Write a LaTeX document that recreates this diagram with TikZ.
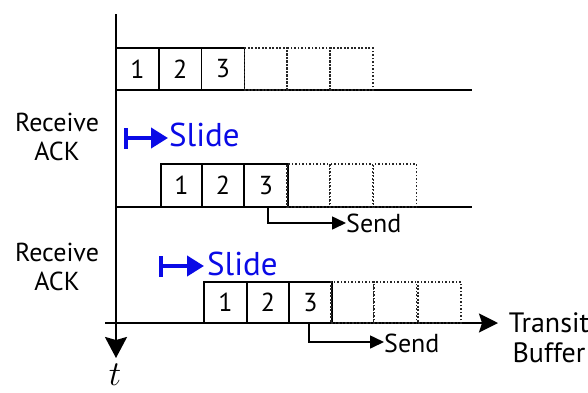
\RequirePackage{fix-cm}
\documentclass[tikz,border=0pt]{standalone}
\usepackage{fontspec}
\setmainfont{PT Sans}
\usetikzlibrary{arrows.meta}
\definecolor{slideblue}{RGB}{10,10,230}
\tikzset{
  cell/.style={draw, line width=1.6pt, minimum width=42.8pt, inner sep=0pt, font=\fontsize{26}{26}\selectfont},
  emptycell/.style={draw, black!85, line width=1.7pt, dash pattern=on 1.7pt off 1.8pt, minimum width=42.8pt, inner sep=0pt},
  hline/.style={line width=2pt},
  sendarrow/.style={line width=1.6pt, -{Triangle[length=14pt,width=13pt]}},
  slidearrow/.style={slideblue, line width=4pt, {Bar[width=21pt,line width=3.5pt]}-{Triangle[length=17pt,width=20pt]}},
  slidetext/.style={slideblue, anchor=base west, inner sep=0pt, font=\fontsize{33}{33}\selectfont},
  sendtext/.style={anchor=base west, inner sep=0pt, font=\fontsize{26}{26}\selectfont},
  acktext/.style={align=center, inner sep=0pt, font=\fontsize{26}{29}\selectfont},
  bigarrow/.style={line width=2.4pt, -{Stealth[length=21pt,width=22pt,inset=3pt]}}
}
\begin{document}
\begin{tikzpicture}[x=1pt,y=-1pt]
\useasboundingbox (0,0) rectangle (588,392);
% time axis
\coordinate (ttop) at (116,14);
\coordinate (tbot) at (116,358);
\draw[bigarrow] (ttop) -- (tbot);
\node[inner sep=0pt, font=\fontsize{35}{35}\selectfont] (tlabel) at (115,375) {$t$};
% row 1
\coordinate (r1s) at (116,90);
\coordinate (r1e) at (472,90);
\draw[hline] (r1s) -- (r1e);
\foreach \i/\x/\t in {1/137.4/1, 2/180.2/2, 3/223/3} {
  \node[cell, minimum height=42pt] (a\i) at (\x,69) {\t};
}
\foreach \i/\x in {4/265.8, 5/308.6, 6/351.4} {
  \node[emptycell, minimum height=42pt] (a\i) at (\x,69) {};
}
% receive ack 1
\node[acktext] (ack1) at (57,137) {Receive\\ACK};
\coordinate (s1a) at (124,138);
\coordinate (s1b) at (168,138);
\draw[slidearrow] (s1a) -- (s1b);
\node[slidetext] (slide1) at (169,146) {Slide};
% row 2
\coordinate (r2s) at (116,207);
\coordinate (r2e) at (472,207);
\draw[hline] (r2s) -- (r2e);
\node[cell, minimum height=43pt, minimum width=41pt] (b1) at (181.5,185.5) {1};
\node[cell, minimum height=43pt, minimum width=42pt] (b2) at (223,185.5) {2};
\node[cell, minimum height=43pt, minimum width=44pt] (b3) at (266,185.5) {3};
\foreach \i/\x in {4/308.5, 5/351, 6/395} {
  \node[emptycell, minimum height=43pt] (b\i) at (\x,185.5) {};
}
\coordinate (send1c) at (268,223);
\node[sendtext] (send1) at (346,232) {Send};
\draw[sendarrow] (268,207) |- (send1.west |- send1c);
% receive ack 2
\node[acktext] (ack2) at (57,267) {Receive\\ACK};
\coordinate (s2a) at (159,266);
\coordinate (s2b) at (204,266);
\draw[slidearrow] (s2a) -- (s2b);
\node[slidetext] (slide2) at (207,275) {Slide};
% row 3
\coordinate (r3s) at (105,323);
\coordinate (r3e) at (498,323);
\draw[hline, -{Stealth[length=19pt,width=19pt,inset=3pt]}] (r3s) -- (r3e);
\foreach \i/\x/\t in {1/225.5/1, 2/268/2, 3/310.5/3} {
  \node[cell, minimum height=41pt] (c\i) at (\x,302.5) {\t};
}
\foreach \i/\x in {4/352.5, 5/395, 6/439.5} {
  \node[emptycell, minimum height=41pt] (c\i) at (\x,302.5) {};
}
\coordinate (send2c) at (309,342);
\node[sendtext] (send2) at (384,352) {Send};
\draw[sendarrow] (309,323) |- (send2.west |- send2c);
\node[acktext, font=\fontsize{28}{30}\selectfont] (tb) at (549,338) {Transit\\Buffer};
\end{tikzpicture}
\end{document}
